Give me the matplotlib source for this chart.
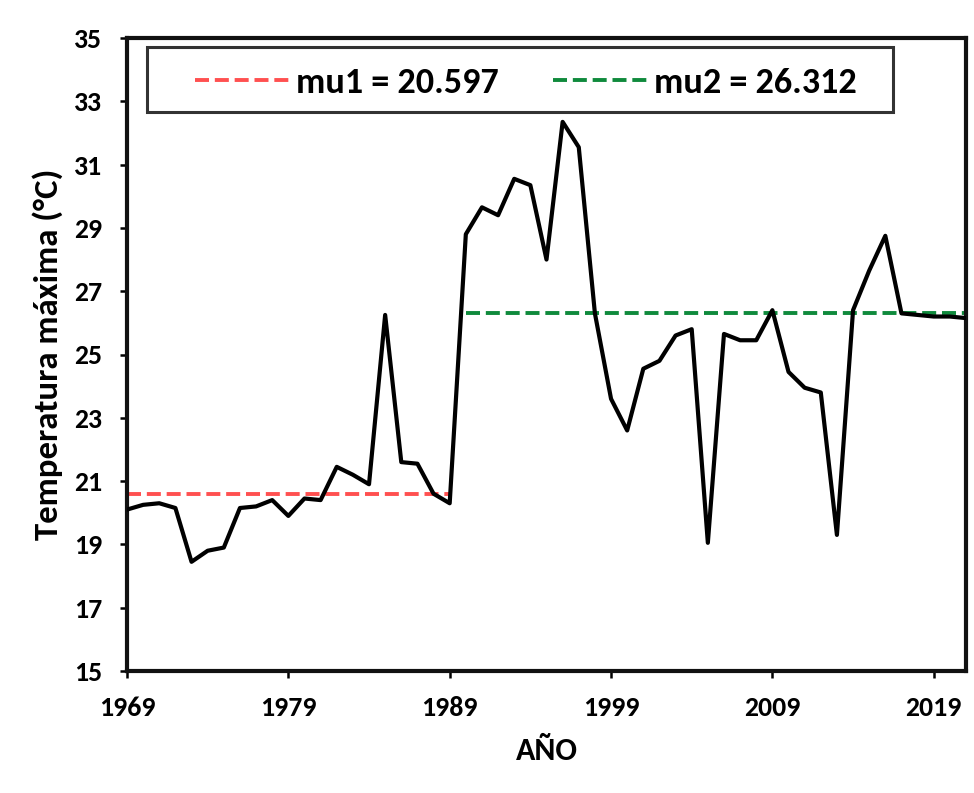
import matplotlib
matplotlib.use("Agg")
import matplotlib.pyplot as plt
from matplotlib import font_manager
from matplotlib.patches import Rectangle

years = list(range(1969, 2022))
tmax = [20.1, 20.25, 20.3, 20.15, 18.45, 18.8, 18.9, 20.15, 20.2, 20.4,
        19.9, 20.45, 20.4, 21.45, 21.2, 20.9, 26.25, 21.6, 21.55, 20.6,
        20.3, 28.8, 29.65, 29.4, 30.55, 30.35, 28.0, 32.35, 31.55, 26.3,
        23.6, 22.6, 24.55, 24.8, 25.6, 25.8, 19.05, 25.65, 25.45, 25.45,
        26.4, 24.45, 23.95, 23.8, 19.3, 26.4, 27.65, 28.75, 26.3, 26.25,
        26.2, 26.2, 26.15]

mu1, mu1_years = 20.597, (1969, 1989)
mu2, mu2_years = 26.312, (1990, 2021)

yticks = list(range(15, 36, 2))
xticks = [1969, 1979, 1989, 1999, 2009, 2019]

installed = {f.name for f in font_manager.fontManager.ttflist}
families = [f for f in ("Carlito", "Liberation Sans Narrow", "Liberation Sans")
            if f in installed]
plt.rcParams["font.family"] = families[:1] + ["DejaVu Sans"]
plt.rcParams["font.weight"] = "bold"

W, H = 974, 793
fig = plt.figure(figsize=(W / 100, H / 100), dpi=100)
ax = fig.add_axes([127 / W, (H - 671) / H, (966 - 127) / W, (671 - 38) / H])

ax.plot(years, tmax, color="black", lw=3.0, solid_joinstyle="round", zorder=3)
ax.plot(mu1_years, [mu1, mu1], color="#ff5050", lw=2.8, ls=(0, (3.6, 1.5)),
        label=f"mu1 = {mu1:.3f}", zorder=2)
ax.plot(mu2_years, [mu2, mu2], color="#0f8a3c", lw=2.8, ls=(0, (3.6, 1.5)),
        label=f"mu2 = {mu2:.3f}", zorder=2)

ax.set_xlim(1969, 2021)
ax.set_ylim(15, 35)
ax.set_xticks(xticks)
ax.set_yticks(yticks)
ax.tick_params(axis="both", direction="out", length=5, width=1.8,
               labelsize=20, pad=13)
for lab in ax.get_xticklabels() + ax.get_yticklabels():
    lab.set_fontweight("bold")
for sp in ax.spines.values():
    sp.set_linewidth(3.0)
    sp.set_color("#111111")

ax.set_xlabel("AÑO", fontsize=23, fontweight="bold", labelpad=12)
ax.set_ylabel("Temperatura máxima (°C)", fontsize=25, fontweight="bold",
              labelpad=8)

# legend entries without frame, with a separate box drawn around them
leg = ax.legend(loc="center", ncol=2, fontsize=26, frameon=False,
                handlelength=2.65, handletextpad=0.15, columnspacing=1.5,
                borderpad=0.0, bbox_to_anchor=(0.4756, 0.929))
for t in leg.get_texts():
    t.set_fontweight("bold")
ax.add_patch(Rectangle((0.0238, 0.883), 0.913 - 0.0238, 0.986 - 0.883,
                       transform=ax.transAxes, fill=True, facecolor="white",
                       edgecolor="#333333", lw=2.2, zorder=4))
leg.set_zorder(5)

fig.savefig("out.png", dpi=100)
